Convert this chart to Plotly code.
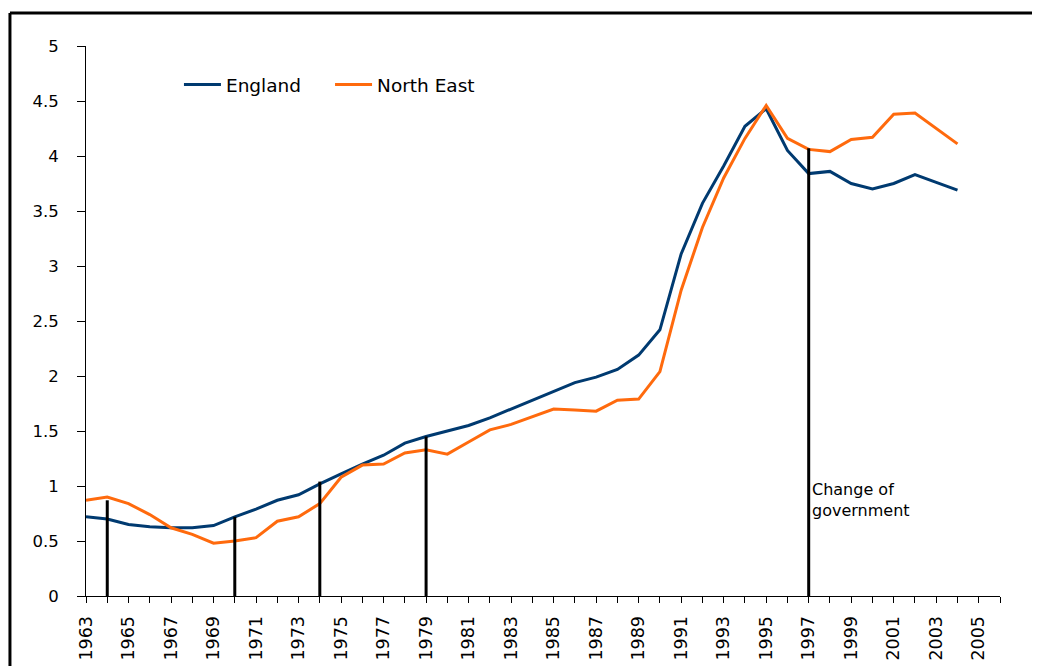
import plotly.graph_objects as go

years = list(range(1963, 2005))
england = [0.72, 0.70, 0.65, 0.63, 0.62, 0.62, 0.64, 0.72, 0.79, 0.87,
           0.92, 1.02, 1.11, 1.20, 1.28, 1.39, 1.45, 1.50, 1.55, 1.62,
           1.70, 1.78, 1.86, 1.94, 1.99, 2.06, 2.19, 2.42, 3.11, 3.57,
           3.91, 4.27, 4.43, 4.05, 3.84, 3.86, 3.75, 3.70, 3.75, 3.83,
           3.76, 3.69]
north_east = [0.87, 0.90, 0.84, 0.74, 0.62, 0.56, 0.48, 0.50, 0.53, 0.68,
              0.72, 0.84, 1.08, 1.19, 1.20, 1.30, 1.33, 1.29, 1.40, 1.51,
              1.56, 1.63, 1.70, 1.69, 1.68, 1.78, 1.79, 2.04, 2.78, 3.35,
              3.80, 4.16, 4.46, 4.16, 4.06, 4.04, 4.15, 4.17, 4.38, 4.39,
              4.25, 4.11]
event_years = [1964, 1970, 1974, 1979, 1997]
event_tops = [0.87, 0.72, 1.04, 1.45, 4.07]
annotation_text = "Change of<br>government"

FONT = "DejaVu Sans"

fig = go.Figure()
fig.add_trace(go.Scatter(x=years, y=england, mode="lines", name="England",
                         legend="legend",
                         line=dict(color="#003A70", width=3)))
fig.add_trace(go.Scatter(x=years, y=north_east, mode="lines", name="North East",
                         legend="legend2",
                         line=dict(color="#FF6A0D", width=3)))

vx, vy = [], []
for yr, top in zip(event_years, event_tops):
    vx += [yr, yr, None]
    vy += [0, top, None]
fig.add_trace(go.Scatter(x=vx, y=vy, mode="lines", showlegend=False,
                         line=dict(color="black", width=3), hoverinfo="skip"))

fig.add_annotation(x=1997, y=0.87, text=annotation_text, showarrow=False,
                   xanchor="left", yanchor="middle", xshift=1, align="left",
                   font=dict(size=16, color="black", family=FONT))

# frame (cut off at right and bottom)
fig.add_shape(type="line", xref="paper", yref="paper", x0=-0.0832, x1=1.2,
              y0=1.06, y1=1.06, line=dict(color="black", width=3))
fig.add_shape(type="line", xref="paper", yref="paper", x0=-0.0832, x1=-0.0832,
              y0=1.06, y1=-0.3, line=dict(color="black", width=3))

legend_common = dict(orientation="h", yanchor="middle", xanchor="left",
                     bgcolor="rgba(0,0,0,0)", font=dict(size=18.5, family=FONT),
                     itemwidth=37, tracegroupgap=0)

fig.update_layout(
    width=1040, height=666,
    margin=dict(l=78, r=48, t=38, b=78),
    paper_bgcolor="white", plot_bgcolor="white",
    font=dict(family=FONT, size=15, color="black"),
    showlegend=True,
    legend=dict(x=0.1017, y=0.929, **legend_common),
    legend2=dict(x=0.267, y=0.929, **legend_common),
    xaxis=dict(range=[1963, 2006], tickmode="linear", tick0=1963, dtick=2,
               tickangle=-90, ticks="outside", ticklen=6, tickcolor="black",
               showline=True, linecolor="black", linewidth=1, showgrid=False,
               zeroline=False, tickfont=dict(size=17.5), automargin=False,
               ticklabelstandoff=6,
               minor=dict(dtick=1, ticks="outside", ticklen=6, tickcolor="black")),
    yaxis=dict(range=[0, 5], tickmode="linear", tick0=0, dtick=0.5,
               ticks="outside", ticklen=8, tickcolor="black",
               showline=True, linecolor="black", linewidth=1, showgrid=False,
               zeroline=False, tickfont=dict(size=16.5), ticklabelstandoff=15,
               automargin=False),
)

fig.write_html("out.html")
